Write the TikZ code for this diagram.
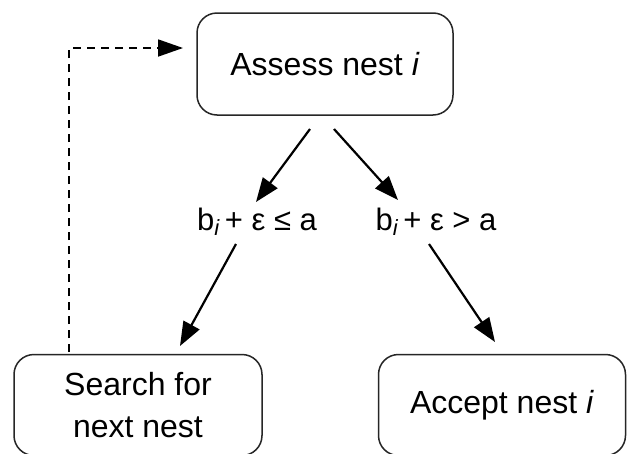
\documentclass[tikz,border=0pt]{standalone}
\usepackage{fontspec}
\setmainfont{Liberation Sans}
\usetikzlibrary{arrows.meta}
\begin{document}
\begin{tikzpicture}[x=1pt,y=-1pt,
  box/.style={draw=black!85, line width=1.5pt, rounded corners=20pt, align=center, inner sep=0pt},
  lab/.style={inner sep=0pt, font=\fontsize{31}{36}\selectfont},
  txt/.style={font=\fontsize{32}{42}\selectfont},
  arr/.style={line width=2.2pt, -{Triangle[length=24pt,width=18pt]}},
  darr/.style={line width=1.8pt, dash pattern=on 8pt off 6pt, -{Triangle[length=25pt,width=17pt]}}]
\useasboundingbox (0,0) rectangle (627,453);
\fill[white] (0,0) rectangle (627,453);
\node[box, minimum width=256pt, minimum height=102pt, txt] (assess) at (325,64) {Assess nest \textit{i}};
\node[box, minimum width=248pt, minimum height=101pt, txt] (search) at (138,405) {Search for\\next nest};
\node[box, minimum width=247pt, minimum height=101pt, txt] (accept) at (502,405) {Accept nest \textit{i}};
\node[lab] (c1) at (257,222) {b\raisebox{-0.3ex}{\fontsize{22}{22}\selectfont\textit{i}}\,+ ε ≤ a};
\node[lab] (c2) at (436,222) {b\raisebox{-0.3ex}{\fontsize{22}{22}\selectfont\textit{i}}\,+ ε > a};
\coordinate (s1) at (310,129);
\coordinate (e1) at (256,202);
\coordinate (s2) at (334,129);
\coordinate (e2) at (398,200);
\coordinate (s3) at (236,244);
\coordinate (e3) at (180,346);
\coordinate (s4) at (429,244);
\coordinate (e4) at (495,342);
\coordinate (d0) at (69,352);
\coordinate (d1) at (69,48);
\coordinate (d2) at (183,48);
\draw[arr] (s1) -- (e1);
\draw[arr] (s2) -- (e2);
\draw[arr] (s3) -- (e3);
\draw[arr] (s4) -- (e4);
\draw[darr] (d0) -- (d1) -- (d2);
\end{tikzpicture}
\end{document}
